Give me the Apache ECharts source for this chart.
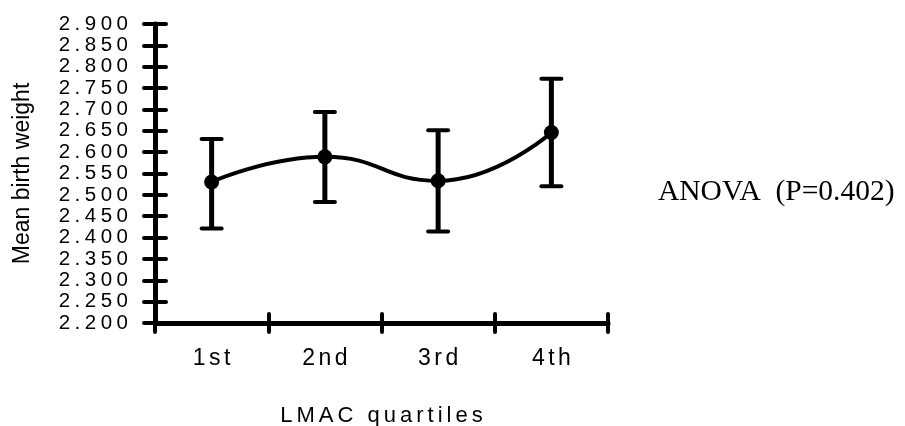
<!DOCTYPE html>
<html>
<head>
<meta charset="utf-8">
<script src="https://cdn.jsdelivr.net/npm/echarts@6/dist/echarts.min.js"></script>
<style>
  html, body { margin: 0; padding: 0; background: #fff; }
  #chart { width: 905px; height: 426px; }
</style>
</head>
<body>
<div id="chart"></div>
<script>
// LMAC quartiles vs. mean birth weight, with error bars
const quartiles = ['1st', '2nd', '3rd', '4th'];
const meanWeight = [2.530, 2.589, 2.533, 2.646];
const lowerBound = [2.421, 2.483, 2.414, 2.520];
const upperBound = [2.631, 2.694, 2.651, 2.772];
const yTicks = [2.200, 2.250, 2.300, 2.350, 2.400, 2.450, 2.500, 2.550,
                2.600, 2.650, 2.700, 2.750, 2.800, 2.850, 2.900];
const yAxisTitle = 'Mean birth weight';
const xAxisTitle = 'LMAC quartiles';
const noteText = 'ANOVA  (P=0.402)';

// Wrap each character in a rich-text fragment so the labels get letter spacing
function spaced(text, style) {
  const chars = text.split('');
  return chars.map((ch, i) => '{' + (i === chars.length - 1 ? style + 'E' : style) + '|' + ch + '}').join('');
}
function spacedStyles(name, size, gap, lineHeight) {
  const base = { fontFamily: 'Liberation Sans', fontSize: size, color: '#000' };
  if (lineHeight) base.lineHeight = lineHeight;
  const r = {};
  r[name] = Object.assign({ padding: [0, gap, 0, 0] }, base);
  r[name + 'E'] = Object.assign({}, base);
  return r;
}

const black = '#000';
const chart = echarts.init(document.getElementById('chart'));

const tickStyle = { color: black, width: 4, cap: 'round' };
const lineStyle = { color: black, width: 5, cap: 'round' };
const yMin = yTicks[0];
const yMax = yTicks[yTicks.length - 1];

chart.setOption({
  animation: false,
  backgroundColor: '#fff',
  grid: { left: 155, right: 297, top: 24, bottom: 103, containLabel: false, outerBoundsMode: 'none' },
  xAxis: [
    {
      type: 'category',
      data: quartiles,
      boundaryGap: true,
      axisLine: { show: true, lineStyle: lineStyle },
      axisTick: { show: true, inside: false, length: 9, lineStyle: tickStyle },
      axisLabel: {
        margin: 24,
        formatter: v => spaced(v, 't'),
        rich: spacedStyles('t', 23, 3.5)
      },
      splitLine: { show: false },
      name: spaced(xAxisTitle, 'n'),
      nameLocation: 'middle',
      nameGap: 82,
      nameTextStyle: { rich: spacedStyles('n', 22, 4) }
    },
    {
      type: 'category',
      data: quartiles,
      position: 'bottom',
      boundaryGap: true,
      axisLine: { show: false },
      axisTick: { show: true, inside: true, length: 9, lineStyle: tickStyle },
      axisLabel: { show: false },
      splitLine: { show: false }
    }
  ],
  yAxis: [
    {
      type: 'value',
      min: yMin,
      max: yMax,
      axisLine: { show: true, lineStyle: lineStyle },
      axisTick: { show: true, inside: false, length: 11, lineStyle: tickStyle, customValues: yTicks },
      axisLabel: {
        margin: 27,
        lineHeight: 12,
        customValues: yTicks,
        showMinLabel: true,
        showMaxLabel: true,
        hideOverlap: false,
        formatter: v => spaced(v.toFixed(3), 'y'),
        rich: spacedStyles('y', 20.5, 4.5, 12)
      },
      splitLine: { show: false },
      name: yAxisTitle,
      nameLocation: 'middle',
      nameGap: 121,
      nameTextStyle: { fontFamily: 'Liberation Sans', fontSize: 23, color: black }
    },
    {
      type: 'value',
      min: yMin,
      max: yMax,
      position: 'left',
      axisLine: { show: false },
      axisTick: { show: true, inside: true, length: 11, lineStyle: tickStyle, customValues: yTicks },
      axisLabel: { show: false, showMinLabel: true, showMaxLabel: true },
      splitLine: { show: false }
    }
  ],
  series: [
    {
      type: 'custom',
      xAxisIndex: 0,
      yAxisIndex: 0,
      data: quartiles.map((q, i) => [i, lowerBound[i], upperBound[i]]),
      renderItem: function (params, api) {
        const i = api.value(0);
        const lo = api.coord([i, api.value(1)]);
        const hi = api.coord([i, api.value(2)]);
        const half = 10;
        const cap = { stroke: black, lineWidth: 4, lineCap: 'round' };
        return {
          type: 'group',
          children: [
            { type: 'line', shape: { x1: lo[0], y1: lo[1], x2: hi[0], y2: hi[1] },
              style: { stroke: black, lineWidth: 5 } },
            { type: 'line', shape: { x1: hi[0] - half, y1: hi[1], x2: hi[0] + half, y2: hi[1] }, style: cap },
            { type: 'line', shape: { x1: lo[0] - half, y1: lo[1], x2: lo[0] + half, y2: lo[1] }, style: cap }
          ]
        };
      },
      z: 2
    },
    {
      type: 'line',
      xAxisIndex: 0,
      yAxisIndex: 0,
      data: meanWeight,
      smooth: 0.5,
      symbol: 'circle',
      symbolSize: 15,
      lineStyle: { color: black, width: 4 },
      itemStyle: { color: black },
      z: 3
    }
  ],
  graphic: [
    {
      type: 'text',
      left: 658,
      top: 177,
      style: {
        text: noteText,
        fontFamily: 'Liberation Serif',
        fontSize: 29.5,
        fill: black
      }
    }
  ]
});
</script>
</body>
</html>
